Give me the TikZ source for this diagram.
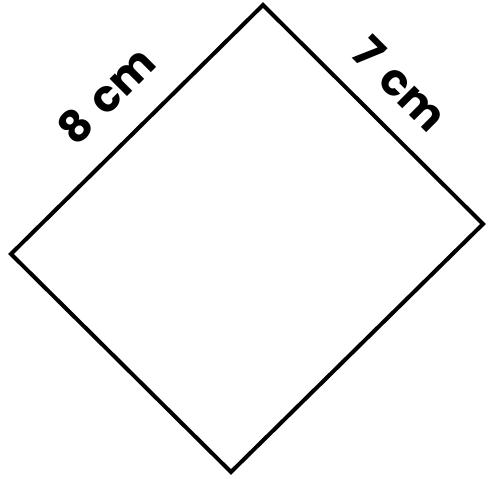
\documentclass[tikz,border=0pt]{standalone}
\usepackage{fontspec}
\setmainfont{Poppins}
\begin{document}
\begin{tikzpicture}[x=1pt,y=-1pt,
  side/.style={line width=4pt,line join=miter},
  lbl/.style={font=\fontsize{44}{48}\selectfont\bfseries,inner sep=0pt}]
\useasboundingbox (0,0) rectangle (488,479);
\coordinate (T) at (263,5);
\coordinate (R) at (483,224);
\coordinate (B) at (231,472);
\coordinate (L) at (11,254);
\draw[side] (T) -- (R) -- (B) -- (L) -- cycle;
\node[lbl,rotate=45] (a) at (106,95) {8\,\,cm};
\node[lbl,rotate=-45] (b) at (400,84) {7\,\,cm};
\end{tikzpicture}
\end{document}
